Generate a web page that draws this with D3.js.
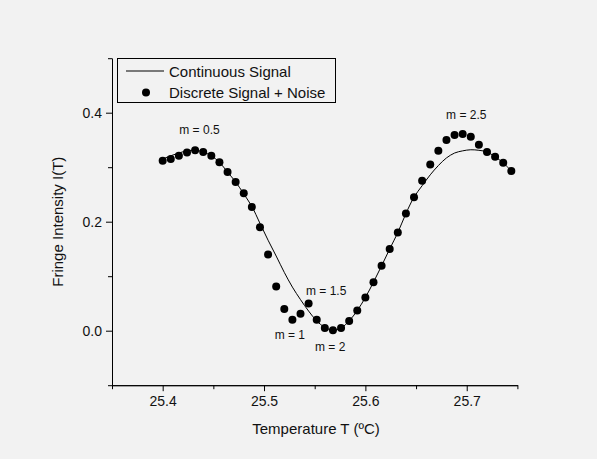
<!DOCTYPE html>
<html>
<head>
<meta charset="utf-8">
<script src="https://cdn.jsdelivr.net/npm/d3@7"></script>
<style>
  html, body { margin: 0; padding: 0; background: #f2f2f2; }
  svg { display: block; }
  text { font-family: "Liberation Sans", Arial, sans-serif; fill: #111; }
</style>
</head>
<body>
<div id="chart"></div>
<script>
// temperature samples (degC)
var temps = [25.400, 25.408, 25.416, 25.424, 25.432, 25.440, 25.448, 25.456, 25.464, 25.472,
             25.480, 25.488, 25.496, 25.504, 25.512, 25.520, 25.528, 25.536, 25.544, 25.552,
             25.560, 25.568, 25.576, 25.584, 25.592, 25.600, 25.608, 25.616, 25.624, 25.632,
             25.640, 25.648, 25.656, 25.664, 25.672, 25.680, 25.688, 25.696, 25.704, 25.712,
             25.720, 25.728, 25.736, 25.744];
// continuous signal
var continuous = [0.315, 0.321, 0.326, 0.330, 0.331, 0.328, 0.321, 0.309, 0.291, 0.273,
                  0.251, 0.228, 0.197, 0.166, 0.137, 0.107, 0.080, 0.057, 0.036, 0.018,
                  0.006, 0.001, 0.005, 0.018, 0.037, 0.061, 0.089, 0.119, 0.150, 0.180,
                  0.215, 0.245, 0.266, 0.286, 0.303, 0.317, 0.326, 0.330, 0.332, 0.331,
                  0.328, 0.319, 0.308, 0.293];
// discrete signal + noise (dots)
var discrete = [0.312, 0.315, 0.321, 0.327, 0.331, 0.328, 0.321, 0.309, 0.291, 0.273,
                0.252, 0.227, 0.190, 0.140, 0.081, 0.040, 0.020, 0.031, 0.050, 0.020,
                0.005, 0.001, 0.005, 0.018, 0.037, 0.061, 0.089, 0.119, 0.150, 0.180,
                0.215, 0.245, 0.275, 0.305, 0.330, 0.350, 0.359, 0.361, 0.356, 0.341,
                0.328, 0.319, 0.308, 0.293];
var xTicks = [25.4, 25.5, 25.6, 25.7];
var xMinor = [25.35, 25.45, 25.55, 25.65, 25.75];
var yTicks = [0.0, 0.2, 0.4];
var yMinor = [-0.1, 0.1, 0.3, 0.5];
var labels = ["m = 0.5", "m = 1", "m = 1.5", "m = 2", "m = 2.5"];
var labelX = [25.4164, 25.5105, 25.5414, 25.5503, 25.6796];
var labelY = [0.361, -0.0158, 0.0664, -0.0367, 0.388];

var W = 597, H = 459;
var svg = d3.select("#chart").append("svg").attr("width", W).attr("height", H);

var x = d3.scaleLinear().domain([25.35, 25.75]).range([112, 517.4]);
var y = d3.scaleLinear().domain([-0.1, 0.5]).range([385.2, 58.2]);

// axes (left + bottom only)
var xAxis = svg.append("g").attr("transform", "translate(0," + y(-0.1) + ")")
    .call(d3.axisBottom(x).tickValues(xTicks).tickSize(6).tickSizeOuter(0).tickPadding(5)
        .tickFormat(d3.format(".1f")));
var xAxisMinor = svg.append("g").attr("transform", "translate(0," + y(-0.1) + ")")
    .call(d3.axisBottom(x).tickValues(xMinor).tickSize(4).tickSizeOuter(0).tickFormat(""));
var yAxis = svg.append("g").attr("transform", "translate(" + x(25.35) + ",0)")
    .call(d3.axisLeft(y).tickValues(yTicks).tickSize(6).tickSizeOuter(0).tickPadding(4)
        .tickFormat(d3.format(".1f")));
var yAxisMinor = svg.append("g").attr("transform", "translate(" + x(25.35) + ",0)")
    .call(d3.axisLeft(y).tickValues(yMinor).tickSize(4).tickSizeOuter(0).tickFormat(""));

svg.selectAll(".domain").attr("stroke", "#000");
svg.selectAll(".tick line").attr("stroke", "#000");
xAxis.selectAll("text").style("font-size", "14px").style("fill", "#111");
yAxis.selectAll("text").style("font-size", "14px").style("fill", "#111");

svg.append("text").attr("x", 316).attr("y", 434)
    .attr("text-anchor", "middle").style("font-size", "15px")
    .text("Temperature T (\u00BAC)");
svg.append("text")
    .attr("transform", "translate(63," + ((y(-0.1) + y(0.5)) / 2) + ") rotate(-90)")
    .attr("text-anchor", "middle").style("font-size", "15px")
    .text("Fringe Intensity I(T)");

// continuous line
var line = d3.line()
    .x(function(d, i) { return x(temps[i]); })
    .y(function(d) { return y(d); })
    .curve(d3.curveCatmullRom);
svg.append("path").datum(continuous)
    .attr("d", line).attr("fill", "none").attr("stroke", "#000").attr("stroke-width", 1);

// discrete dots
svg.selectAll("circle.pt").data(discrete).enter().append("circle")
    .attr("class", "pt")
    .attr("cx", function(d, i) { return x(temps[i]); })
    .attr("cy", function(d) { return y(d); })
    .attr("r", 4).attr("fill", "#000");

// fringe order labels
svg.selectAll("text.m").data(labels).enter().append("text")
    .attr("class", "m")
    .attr("x", function(d, i) { return x(labelX[i]); })
    .attr("y", function(d, i) { return y(labelY[i]); })
    .style("font-size", "12px")
    .text(function(d) { return d; });

// legend
var lg = svg.append("g");
lg.append("rect").attr("x", 117.5).attr("y", 58.5).attr("width", 218).attr("height", 44)
    .attr("fill", "#f2f2f2").attr("stroke", "#000").attr("stroke-width", 1);
lg.append("line").attr("x1", 126).attr("x2", 164).attr("y1", 71).attr("y2", 71)
    .attr("stroke", "#000").attr("stroke-width", 1);
lg.append("circle").attr("cx", 146).attr("cy", 92.5).attr("r", 4).attr("fill", "#000");
lg.append("text").attr("x", 169).attr("y", 76.5).style("font-size", "15px").text("Continuous Signal");
lg.append("text").attr("x", 169).attr("y", 97.8).style("font-size", "15px").text("Discrete Signal + Noise");
</script>
</body>
</html>
